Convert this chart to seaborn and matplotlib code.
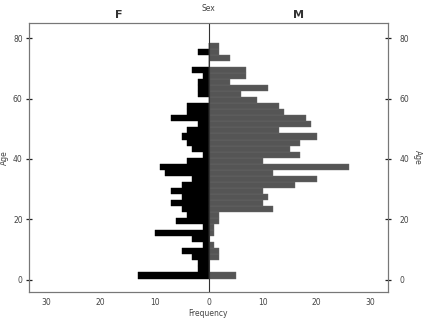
import numpy as np
import pandas as pd
import matplotlib
matplotlib.use("Agg")
import matplotlib.pyplot as plt
import seaborn as sns

# lower edge of each 2-year age bin
age_bins = [0.42, 2.42, 4.42, 6.42, 8.42, 10.42, 12.42, 14.42, 16.42, 18.42,
            20.42, 22.42, 24.42, 26.42, 28.42, 30.42, 32.42, 34.42, 36.42, 38.42,
            40.42, 42.42, 44.42, 46.42, 48.42, 50.42, 52.42, 54.42, 56.42, 58.42,
            60.42, 62.42, 64.42, 66.42, 68.42, 70.42, 72.42, 74.42, 76.42]
bin_width = 2.0

female = [13, 2, 2, 3, 5, 1, 3, 10, 1, 6, 4, 5, 7, 5, 7, 5, 3, 8, 9, 4,
          1, 3, 4, 5, 4, 2, 7, 4, 4, 0, 2, 2, 2, 1, 3, 0, 0, 2, 0]
male = [5, 0, 0, 2, 2, 1, 0, 1, 1, 2, 2, 12, 10, 11, 10, 16, 20, 12, 26, 10,
        17, 15, 17, 20, 13, 19, 18, 14, 13, 9, 6, 11, 4, 7, 7, 0, 4, 2, 2]

tick_vals = [-30, -20, -10, 0, 10, 20, 30]
tick_labels = ["30", "20", "10", "0", "10", "20", "30"]
age_ticks = [0, 20, 40, 60, 80]

df = pd.DataFrame({"age": np.array(age_bins) + bin_width / 2,
                   "F": female, "M": male})
edges = list(age_bins) + [age_bins[-1] + bin_width]

sns.set_style("white")
plt.rcParams["font.family"] = ["DejaVu Sans"]

fig = plt.figure(figsize=(4.31, 3.19), dpi=100)
ax = fig.add_axes([0.067, 0.085, 0.833, 0.843])

sns.histplot(data=df, y="age", weights=-df["F"], bins=edges, ax=ax,
             color="black", alpha=1, edgecolor="black", linewidth=0.3)
sns.histplot(data=df, y="age", weights=df["M"], bins=edges, ax=ax,
             color="#555555", alpha=1, edgecolor="#6a6a6a", linewidth=0.3)

ax.axvline(0, color="#333333", lw=0.8, zorder=3)
ax.set_xlim(-33.3, 33.2)
ax.set_ylim(-4, 85)

grey = "#777777"
for s in ax.spines.values():
    s.set_color(grey)
    s.set_linewidth(0.8)

ax.set_xticks(tick_vals)
ax.set_xticklabels(tick_labels)
ax.set_yticks(age_ticks)
ax.tick_params(axis="both", direction="inout", length=5, width=0.9,
               color="#222222", labelsize=5.5, labelcolor="#444444", pad=2)
ax.set_xlabel("Frequency", fontsize=5.5, color="#444444", labelpad=1)
ax.set_ylabel("Age", fontsize=5.5, color="#444444", labelpad=3)

ax2 = ax.twinx()
ax2.set_ylim(ax.get_ylim())
ax2.set_yticks(age_ticks)
ax2.tick_params(axis="y", direction="inout", length=5, width=0.9,
                color="#222222", labelsize=5.5, labelcolor="#444444", pad=6)
ax2.set_ylabel("Age", fontsize=5.5, color="#444444", rotation=270, labelpad=9)
for s in ax2.spines.values():
    s.set_color(grey)
    s.set_linewidth(0.8)

ax.text(0, 1.055, "Sex", transform=ax.get_xaxis_transform(), ha="center",
        va="center", fontsize=5.5, color="#444444")
ax.text(-16.6, 1.03, "F", transform=ax.get_xaxis_transform(), ha="center",
        va="center", fontsize=8, fontweight="bold", color="#333333")
ax.text(16.6, 1.03, "M", transform=ax.get_xaxis_transform(), ha="center",
        va="center", fontsize=8, fontweight="bold", color="#333333")

fig.savefig("out.png", dpi=100)
